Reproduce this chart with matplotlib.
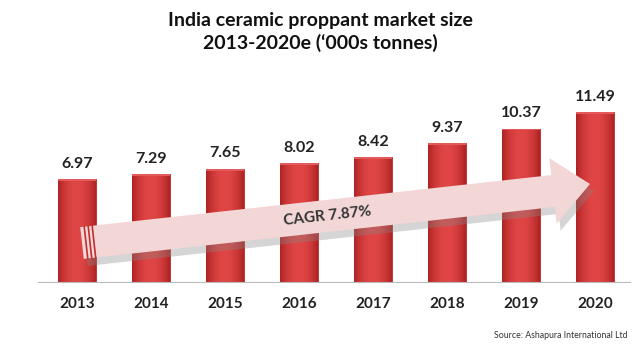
import numpy as np
import matplotlib.pyplot as plt
from matplotlib.patches import Polygon

plt.rcParams['font.family'] = ['Lato', 'DejaVu Sans']

# Data
years = ['2013', '2014', '2015', '2016', '2017', '2018', '2019', '2020']
sizes = [6.97, 7.29, 7.65, 8.02, 8.42, 9.37, 10.37, 11.49]
cagr_label = 'CAGR 7.87%'

fig = plt.figure(figsize=(6.4, 3.5), dpi=100)
ax = fig.add_axes([38 / 640, 68 / 350, 592 / 640, 222 / 350])

x = np.arange(len(years))
bars = ax.bar(x, sizes, width=0.51, color='#D63A3A', edgecolor='#B82828', linewidth=0.6, zorder=2)

# horizontal shading inside each bar
grad = np.linspace(0, 1, 64)
grad = 1 - 0.35 * (2 * grad - 1) ** 2
cmap = plt.matplotlib.colors.LinearSegmentedColormap.from_list('r', ['#A81E1E', '#E04646'])
for b in bars:
    x0, w, h = b.get_x(), b.get_width(), b.get_height()
    im = ax.imshow(grad[None, :], extent=(x0, x0 + w, 0, h), aspect='auto', cmap=cmap,
                   vmin=0.6, vmax=1.0, zorder=2.1)
    im.set_clip_path(b)
    ax.bar(b.get_x() + w / 2, 0.12, bottom=h - 0.12, width=w, color='#E35A5A', zorder=2.2, linewidth=0)

for xi, v in zip(x, sizes):
    ax.annotate(f'{v:.2f}', (xi, v), xytext=(0, 6), textcoords='offset points',
                ha='center', va='bottom', fontsize=11.5, fontweight='bold', color='#222222')

ax.set_xlim(-0.527, 7.473)
ax.set_ylim(0, 15)
ax.set_yticks([])
ax.set_xticks(x)
ax.set_xticklabels(years, fontsize=11, fontweight='bold', color='#222222')
ax.tick_params(axis='x', length=0, pad=11)
for s in ['top', 'right', 'left']:
    ax.spines[s].set_visible(False)
ax.spines['bottom'].set_color('#BBBBBB')
ax.spines['bottom'].set_zorder(5)

# CAGR arrow (pixel coordinates of the figure)
def px(pts):
    return [(a / 640, 1 - b / 350) for a, b in pts]

tail = np.array([82.0, 243.0])
base = np.array([553.0, 191.0])
tip = np.array([590.0, 184.0])
d = (base - tail) / np.linalg.norm(base - tail)
n = np.array([d[1], -d[0]])
half, head = 16.0, 33.0
arrow = [tail + n * half, base + n * half, base + n * head, tip,
         base - n * head, base - n * half, tail - n * half]
shadow = [p + np.array([4, 7]) for p in arrow]
fig.patches.append(Polygon(px(shadow), closed=True, transform=fig.transFigure,
                           facecolor='#888888', alpha=0.35, edgecolor='none', zorder=3))
fig.patches.append(Polygon(px(arrow), closed=True, transform=fig.transFigure,
                           facecolor='#F3D6D6', edgecolor='none', zorder=4))
for k in range(3):
    t0 = tail + d * (4 + 4 * k)
    seg = [t0 + n * half, t0 - n * half]
    fig.lines.append(plt.Line2D([p[0] / 640 for p in seg], [1 - p[1] / 350 for p in seg],
                                transform=fig.transFigure, color='#C03030', lw=1.2, zorder=5))
ang = np.degrees(np.arctan2(-(base - tail)[1], (base - tail)[0]))
mid = tail + (base - tail) * 0.52
fig.text(mid[0] / 640, 1 - mid[1] / 350, cagr_label, rotation=ang, ha='center', va='center',
         fontsize=11, fontweight='bold', color='#333333', rotation_mode='anchor', zorder=6)

fig.text(0.5, 1 - 32 / 350, 'India ceramic proppant market size\n2013-2020e (\u2018000s tonnes)',
         ha='center', va='center', fontsize=14, fontweight='bold', color='#111111', linespacing=1.3)
fig.text(628 / 640, 1 - 336 / 350, 'Source: Ashapura International Ltd', ha='right', va='center',
         fontsize=6.3, color='#333333')

fig.savefig('out.png', dpi=100)
